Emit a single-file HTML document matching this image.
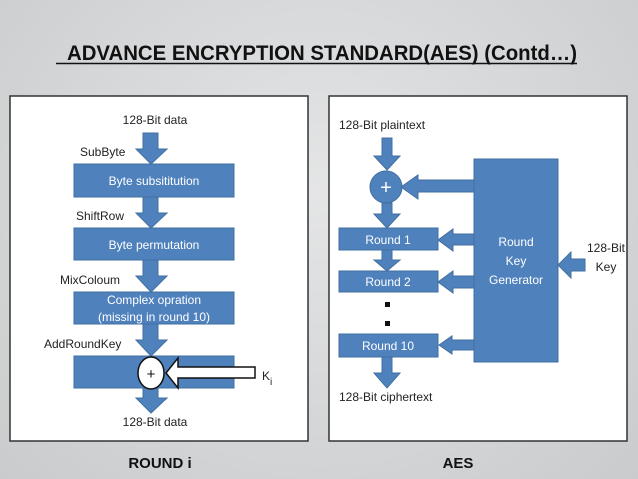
<!DOCTYPE html>
<html><head><style>
body{margin:0;width:638px;height:479px;overflow:hidden;background:radial-gradient(ellipse at 50% 40%,#e4e5e6,#c9cbcd);}
svg{display:block;font-family:"Liberation Sans",sans-serif;}
</style></head><body>
<svg width="638" height="479" viewBox="0 0 638 479">
<text x="67" y="60" font-size="21" font-weight="bold" fill="#111" textLength="510" lengthAdjust="spacingAndGlyphs">ADVANCE ENCRYPTION STANDARD(AES) (Contd…)</text>
<line x1="56" y1="63.5" x2="577" y2="63.5" stroke="#111" stroke-width="1.6"/>
<rect x="10" y="96" width="298" height="345" fill="#fff" stroke="#333" stroke-width="1.5"/>
<rect x="329" y="96" width="298" height="345" fill="#fff" stroke="#333" stroke-width="1.5"/>
<g fill="#4f81bd" stroke="#41709f" stroke-width="1">
<path d="M143,133 H158 V149 H167 L151,164 L136,149 H143 Z"/>
<path d="M143,197 H158 V213 H167 L151,228 L136,213 H143 Z"/>
<path d="M143,260 H158 V276 H167 L151,292 L136,276 H143 Z"/>
<path d="M143,324 H158 V340 H167 L151,356 L136,340 H143 Z"/>
<path d="M143,388 H158 V398 H167 L151,413 L136,398 H143 Z"/>
<rect x="74" y="164" width="160" height="33"/>
<rect x="74" y="228" width="160" height="32"/>
<rect x="74" y="292" width="160" height="32"/>
<rect x="74" y="356" width="160" height="32"/>
<path d="M382,138 H392 V156 H400 L387,170 L374,156 H382 Z"/>
<circle cx="386" cy="187" r="16"/>
<path d="M382,203 H392 V214 H400 L387,228 L374,214 H382 Z"/>
<rect x="339" y="228" width="99" height="22"/>
<path d="M382,250 H392 V260 H400 L387,271 L374,260 H382 Z"/>
<rect x="339" y="271" width="99" height="21"/>
<rect x="339" y="334" width="99" height="23"/>
<path d="M382,357 H392 V373 H400 L387,388 L374,373 H382 Z"/>
<rect x="474" y="159" width="84" height="203"/>
<path d="M474,180 H418 V175 L401,187 L418,199 V192 H474 Z"/>
<path d="M474,234 H453 V229 L438,240 L453,251 V245 H474 Z"/>
<path d="M474,276 H453 V271 L438,282 L453,293 V288 H474 Z"/>
<path d="M474,340 H452 V336 L439,345 L452,354 V350 H474 Z"/>
<path d="M585,259 H571 V252 L558,265 L571,278 V271 H585 Z"/>
</g>
<rect x="385" y="302" width="5" height="5" fill="#111"/>
<rect x="385" y="321" width="5" height="5" fill="#111"/>
<ellipse cx="151" cy="373" rx="13" ry="16" fill="#fff" stroke="#111" stroke-width="1.5"/>
<text x="151" y="379" font-size="15" text-anchor="middle" fill="#111">+</text>
<path d="M255,367 H178 V358 L166,373 L178,388 V378 H255 Z" fill="#fff" stroke="#111" stroke-width="1.5"/>
<text x="386" y="194" font-size="20" text-anchor="middle" fill="#fff">+</text>
<g font-size="12" fill="#222">
<text x="155" y="124" text-anchor="middle">128-Bit data</text>
<text x="80" y="156">SubByte</text>
<text x="76" y="220">ShiftRow</text>
<text x="60" y="284">MixColoum</text>
<text x="44" y="348">AddRoundKey</text>
<text x="262" y="380">K</text><text x="270" y="385" font-size="10">i</text>
<text x="155" y="426" text-anchor="middle">128-Bit data</text>
<text x="339" y="129">128-Bit plaintext</text>
<text x="339" y="401">128-Bit ciphertext</text>
<text x="606" y="252" text-anchor="middle">128-Bit</text>
<text x="606" y="271" text-anchor="middle">Key</text>
</g>
<g font-size="12" fill="#fff" text-anchor="middle">
<text x="154" y="185">Byte subsititution</text>
<text x="154" y="249">Byte permutation</text>
<text x="154" y="304">Complex opration</text>
<text x="154" y="321">(missing in round 10)</text>
<text x="388" y="244">Round 1</text>
<text x="388" y="286">Round 2</text>
<text x="388" y="350">Round 10</text>
<text x="516" y="246">Round</text>
<text x="516" y="265">Key</text>
<text x="516" y="284">Generator</text>
</g>
<text x="160" y="468" font-size="15" font-weight="bold" text-anchor="middle" fill="#111">ROUND  i</text>
<text x="458" y="468" font-size="15" font-weight="bold" text-anchor="middle" fill="#111">AES</text>
</svg>
</body></html>
